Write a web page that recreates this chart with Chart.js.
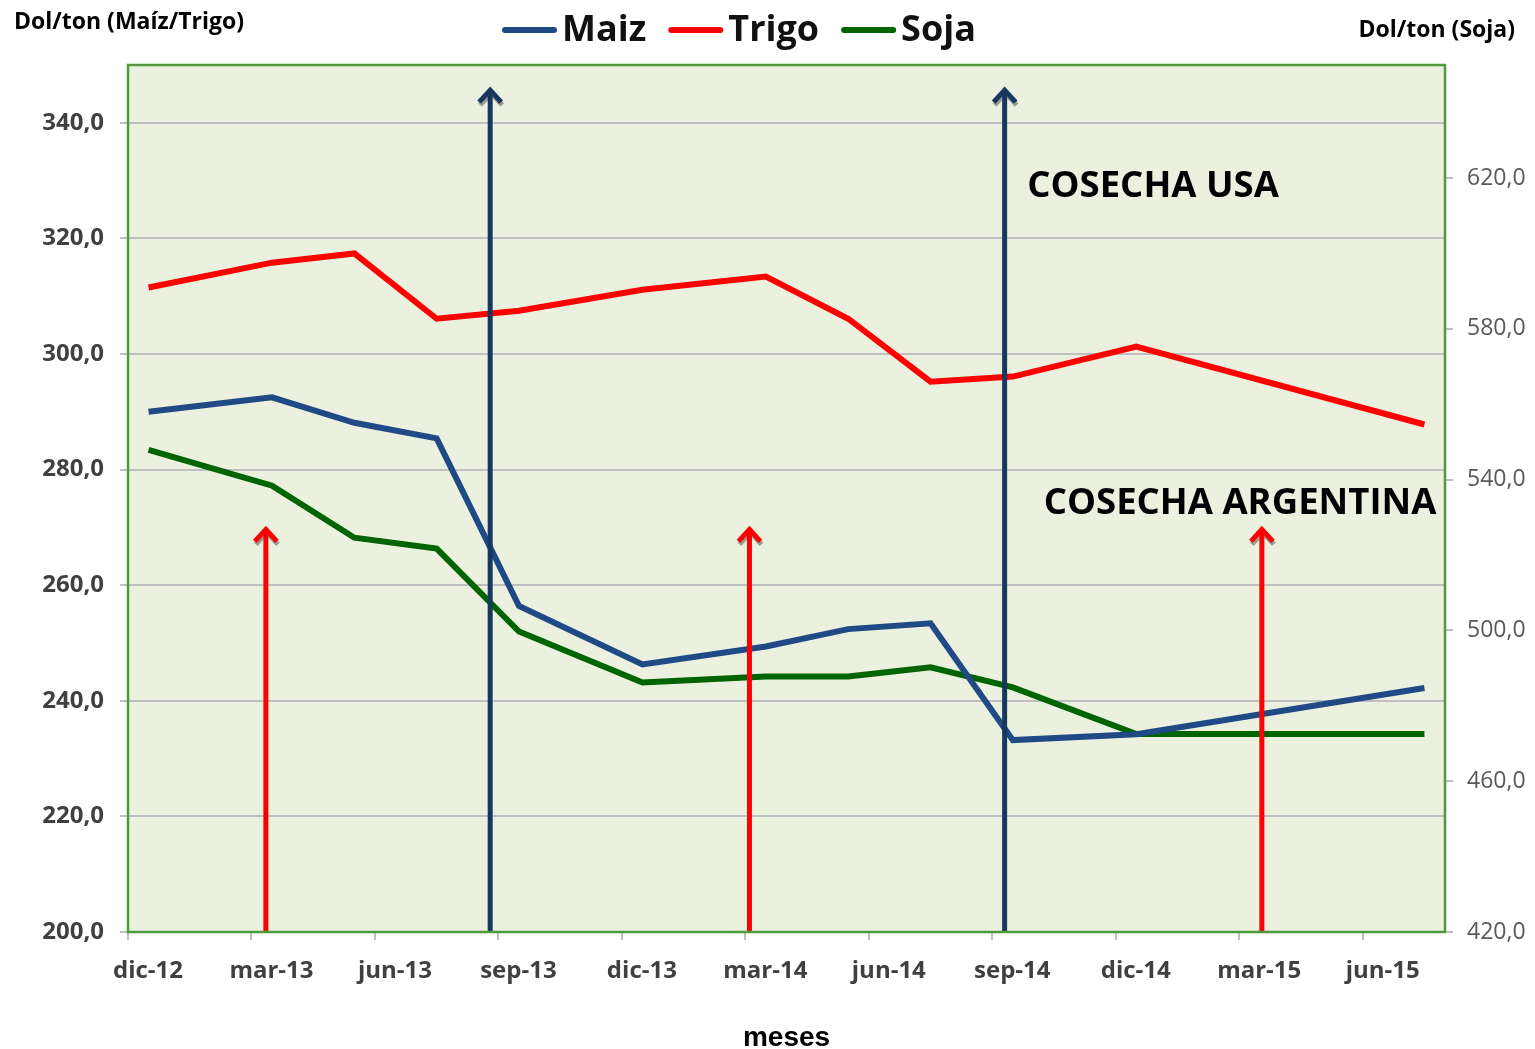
<!DOCTYPE html>
<html>
<head>
<meta charset="utf-8">
<script src="https://cdn.jsdelivr.net/npm/chart.js@4.4.0/dist/chart.umd.min.js"></script>
<style>
  html, body { margin: 0; padding: 0; background: #fff; }
  #wrap { position: relative; width: 1535px; height: 1049px; }
</style>
</head>
<body>
<div id="wrap"><canvas id="chart"></canvas></div>
<script>
// meses desde dic-12 (0 = dic-12, 3 = mar-13, ...)
const mesesDatos = [0, 3, 5, 7, 9, 12, 15, 17, 19, 21, 24, 31];
const maiz  = [290.0, 292.5, 288.1, 285.4, 256.4, 246.3, 249.4, 252.4, 253.4, 233.2, 234.2, 242.2];
const trigo = [311.5, 315.8, 317.4, 306.1, 307.5, 311.1, 313.4, 306.1, 295.2, 296.1, 301.3, 287.8];
const soja  = [547.9, 538.4, 524.6, 521.7, 499.7, 486.2, 487.8, 487.8, 490.2, 484.9, 472.5, 472.5];

const etiquetasX = ["dic-12", "mar-13", "jun-13", "sep-13", "dic-13", "mar-14",
                    "jun-14", "sep-14", "dic-14", "mar-15", "jun-15"];
const ticksIzq = [200, 220, 240, 260, 280, 300, 320, 340];
const ticksDer = [420, 460, 500, 540, 580, 620];

// flechas de cosecha (mes, valor en eje izquierdo de la punta)
const flechasArg = [2.85, 14.6, 27.05];
const puntaArg = 270;
const flechasUsa = [8.3, 20.8];
const puntaUsa = 346;

const COL_MAIZ  = "#1f4a86";
const COL_TRIGO = "#ff0000";
const COL_SOJA  = "#006400";
const COL_NAVY  = "#17375e";
const FONT = "'Open Sans', 'DejaVu Sans', sans-serif";

const fmt = v => Number(v).toFixed(1).replace(".", ",");
const pts = vals => vals.map((v, i) => ({ x: mesesDatos[i], y: v }));

// fondo del área, flechas, borde, leyenda y títulos
const extras = {
  id: "extras",
  beforeDraw(chart) {
    const { ctx, chartArea: a } = chart;
    ctx.save();
    ctx.fillStyle = "#ebf1de";
    ctx.fillRect(a.left, a.top, a.right - a.left, a.bottom - a.top);
    ctx.restore();
  },
  afterDatasetsDraw(chart) {
    const { ctx, chartArea: a, scales } = chart;
    const x = scales.x, y = scales.y;

    function flecha(mes, tope, color) {
      const px = x.getPixelForValue(mes);
      const top = y.getPixelForValue(tope);
      ctx.save();
      ctx.lineWidth = 5;
      ctx.lineCap = "butt";
      ctx.lineJoin = "miter";
      // sombra de la punta
      ctx.strokeStyle = "rgba(120,120,120,0.7)";
      ctx.beginPath();
      ctx.moveTo(px - 10, top + 17);
      ctx.lineTo(px + 1, top + 5);
      ctx.lineTo(px + 12, top + 17);
      ctx.stroke();
      ctx.strokeStyle = color;
      ctx.beginPath();
      ctx.moveTo(px, a.bottom);
      ctx.lineTo(px, top + 2);
      ctx.stroke();
      ctx.beginPath();
      ctx.moveTo(px - 11, top + 14);
      ctx.lineTo(px, top + 2);
      ctx.lineTo(px + 11, top + 14);
      ctx.stroke();
      ctx.restore();
    }
    flechasArg.forEach(m => flecha(m, puntaArg, COL_TRIGO));
    flechasUsa.forEach(m => flecha(m, puntaUsa, COL_NAVY));

    ctx.save();
    ctx.fillStyle = "#000";
    ctx.font = "bold 36.5px " + FONT;
    ctx.textBaseline = "middle";
    ctx.textAlign = "left";
    ctx.fillText("COSECHA USA", x.getPixelForValue(21.35), y.getPixelForValue(328.9));
    ctx.fillText("COSECHA ARGENTINA", x.getPixelForValue(21.75), y.getPixelForValue(274.2));
    ctx.restore();
  },
  afterDraw(chart) {
    const { ctx, chartArea: a } = chart;
    ctx.save();
    ctx.strokeStyle = "#4e9a3e";
    ctx.lineWidth = 2.5;
    ctx.strokeRect(a.left, a.top, a.right - a.left, a.bottom - a.top);

    // títulos de ejes
    ctx.fillStyle = "#000";
    ctx.textBaseline = "middle";
    ctx.font = "bold 23px " + FONT;
    ctx.textAlign = "left";
    ctx.fillText("Dol/ton (Maíz/Trigo)", 14, 22);
    ctx.textAlign = "right";
    ctx.fillText("Dol/ton (Soja)", 1515, 30);

    // leyenda
    ctx.font = "bold 36px " + FONT;
    const items = chart.data.datasets.map(d => ({ label: d.label, color: d.borderColor }));
    const lineW = 55, gap = 5, sep = 22;
    let total = 0;
    items.forEach((it, i) => {
      it.w = ctx.measureText(it.label).width;
      total += lineW + gap + it.w + (i < items.length - 1 ? sep : 0);
    });
    let cx = 739 - total / 2;
    const cy = 30;
    items.forEach(it => {
      ctx.strokeStyle = it.color;
      ctx.lineWidth = 6;
      ctx.lineCap = "round";
      ctx.beginPath();
      ctx.moveTo(cx + 3, cy);
      ctx.lineTo(cx + lineW - 3, cy);
      ctx.stroke();
      ctx.fillStyle = "#111";
      ctx.textAlign = "left";
      ctx.fillText(it.label, cx + lineW + gap, cy + 1);
      cx += lineW + gap + it.w + sep;
    });
    ctx.restore();
  }
};

new Chart(document.getElementById("chart"), {
  type: "line",
  data: {
    datasets: [
      { label: "Maiz",  data: pts(maiz),  borderColor: COL_MAIZ,  yAxisID: "y" },
      { label: "Trigo", data: pts(trigo), borderColor: COL_TRIGO, yAxisID: "y" },
      { label: "Soja",  data: pts(soja),  borderColor: COL_SOJA,  yAxisID: "y1" }
    ]
  },
  options: {
    responsive: true,
    maintainAspectRatio: false,
    animation: false,
    layout: { padding: { top: 65, left: 0, right: 0, bottom: 0 } },
    elements: {
      line: { borderWidth: 6, tension: 0, borderJoinStyle: "miter", borderCapStyle: "butt" },
      point: { radius: 0 }
    },
    plugins: { legend: { display: false }, tooltip: { enabled: false } },
    scales: {
      x: {
        type: "linear",
        min: -0.5,
        max: 31.5,
        afterBuildTicks: s => { s.ticks = etiquetasX.map((_, i) => ({ value: i * 3 - 0.5 })); },
        afterFit: s => { s.height = 117; },
        border: { display: false },
        grid: { drawOnChartArea: false, drawTicks: true, tickLength: 8, color: "#bfbfbf", lineWidth: 2 },
        ticks: {
          autoSkip: false, maxRotation: 0, labelOffset: 20, padding: 17,
          color: "#404040", font: { family: FONT, size: 24, weight: "bold" },
          callback: (v, i) => etiquetasX[i]
        },
        title: {
          display: true, text: "meses", color: "#000",
          font: { family: "'Liberation Sans', Arial, sans-serif", size: 28, weight: "bold", lineHeight: 0.75 },
          padding: { top: 28, bottom: 0 }
        }
      },
      y: {
        position: "left",
        min: 200,
        max: 350,
        afterBuildTicks: s => { s.ticks = ticksIzq.map(v => ({ value: v })); },
        afterFit: s => { s.width = 128; },
        border: { display: false },
        grid: { color: "#bfbfbf", lineWidth: 2, tickLength: 8 },
        ticks: {
          padding: 16, color: "#404040",
          font: { family: FONT, size: 24, weight: "bold" },
          callback: v => fmt(v)
        }
      },
      y1: {
        position: "right",
        min: 420,
        max: 650,
        afterBuildTicks: s => { s.ticks = ticksDer.map(v => ({ value: v })); },
        afterFit: s => { s.width = 90; },
        border: { display: false },
        grid: { drawOnChartArea: false, color: "#bfbfbf", lineWidth: 2, tickLength: 8 },
        ticks: {
          padding: 14, color: "#595959",
          font: { family: FONT, size: 23 },
          callback: v => fmt(v)
        }
      }
    }
  },
  plugins: [extras]
});
</script>
</body>
</html>
